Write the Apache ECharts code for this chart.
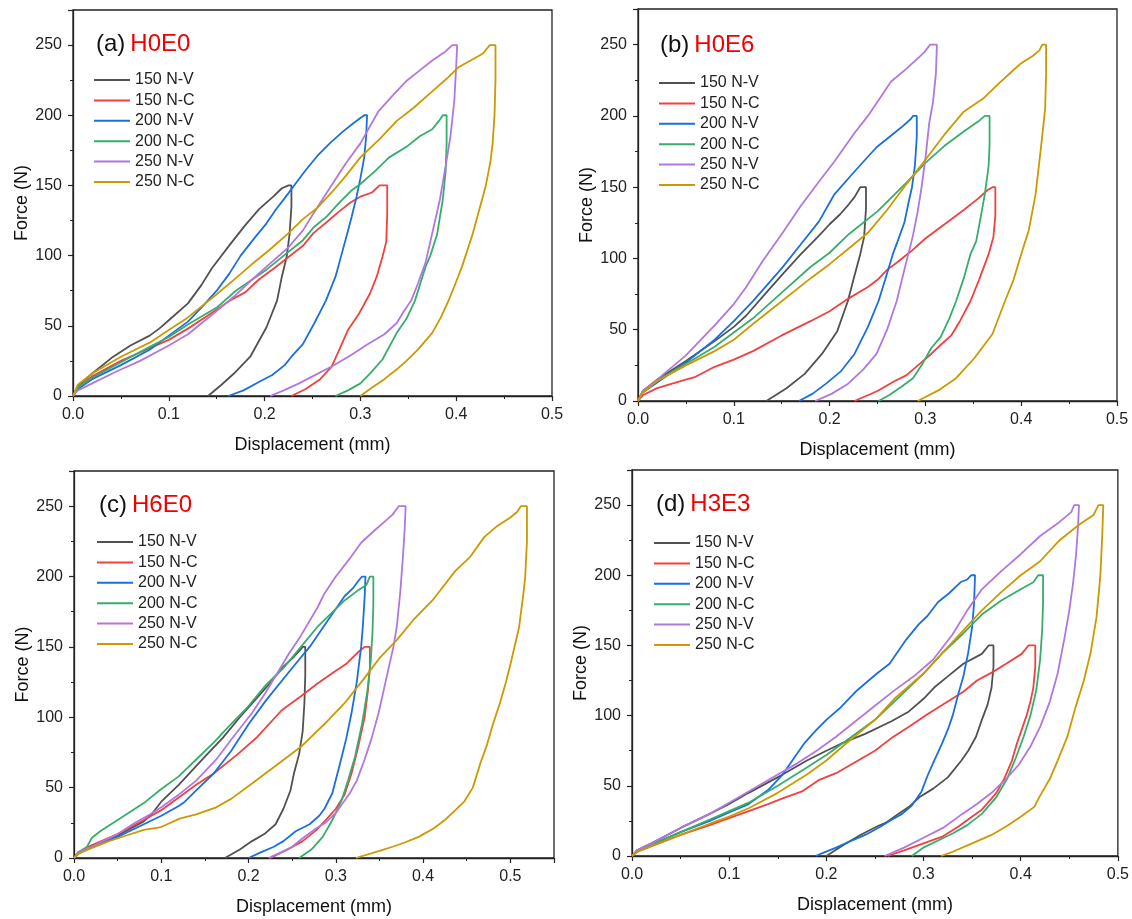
<!DOCTYPE html>
<html><head><meta charset="utf-8">
<script src="https://cdn.jsdelivr.net/npm/echarts@6/dist/echarts.min.js"></script>
<style>html,body{margin:0;padding:0;background:#fff}#c{width:1132px;height:919px}</style>
</head><body><div id="c"></div>
<script>
// ---------- data ----------
const seriesNames = ['150 N-V','150 N-C','200 N-V','200 N-C','250 N-V','250 N-C'];
const panelCodes = ['H0E0','H0E6','H6E0','H3E3'];
const panelLetters = ['(a)','(b)','(c)','(d)'];
const xTicks = [0,0.1,0.2,0.3,0.4,0.5];
const yTicks = [0,50,100,150,200,250];

// Panel (a) H0E0
const a150V = [[0,0],[0.005,7],[0.02,16],[0.04,27],[0.06,36],[0.08,43],[0.09,48],[0.1,54],[0.12,66],[0.134,79],[0.145,91],[0.164,108],[0.179,121],[0.194,133],[0.209,142],[0.218,148],[0.225,150],[0.228,150],[0.228,135],[0.226,115],[0.223,99],[0.218,85],[0.213,68],[0.202,49],[0.185,28],[0.168,16],[0.155,8],[0.141,0]];
const a150C = [[0,0],[0.005,6],[0.02,14],[0.05,25],[0.08,34],[0.1,40],[0.12,48],[0.14,57],[0.164,68],[0.18,74],[0.194,83],[0.21,91],[0.225,99],[0.24,107],[0.251,116],[0.265,124],[0.277,131],[0.29,138],[0.3,142],[0.312,145],[0.32,150],[0.328,150],[0.328,130],[0.327,110],[0.323,99],[0.317,85],[0.31,73],[0.298,58],[0.287,47],[0.278,33],[0.27,21],[0.258,12],[0.243,5],[0.228,0]];
const a200V = [[0,0],[0.005,5],[0.02,12],[0.05,22],[0.08,33],[0.1,43],[0.12,53],[0.134,63],[0.15,75],[0.163,87],[0.175,100],[0.19,113],[0.202,123],[0.212,133],[0.221,141],[0.232,151],[0.243,161],[0.255,171],[0.268,180],[0.281,188],[0.292,194],[0.3,198],[0.304,200],[0.307,200],[0.306,185],[0.304,170],[0.3,155],[0.296,142],[0.291,128],[0.286,115],[0.28,100],[0.274,85],[0.264,68],[0.252,52],[0.24,37],[0.228,28],[0.221,22],[0.208,15],[0.194,10],[0.178,4],[0.162,0]];
const a200C = [[0,0],[0.005,6],[0.02,13],[0.05,24],[0.08,35],[0.1,42],[0.12,51],[0.15,63],[0.17,75],[0.2,89],[0.22,100],[0.24,111],[0.251,120],[0.265,128],[0.277,137],[0.29,146],[0.3,151],[0.315,160],[0.33,170],[0.349,178],[0.362,185],[0.375,190],[0.382,196],[0.386,200],[0.39,200],[0.39,180],[0.389,160],[0.386,140],[0.38,115],[0.373,100],[0.368,92],[0.357,68],[0.348,55],[0.338,45],[0.323,26],[0.31,16],[0.3,9],[0.287,4],[0.274,0]];
const a250V = [[0,0],[0.005,4],[0.02,9],[0.047,18],[0.07,25],[0.1,36],[0.12,44],[0.149,60],[0.17,72],[0.187,83],[0.205,94],[0.225,106],[0.24,118],[0.251,130],[0.265,145],[0.285,166],[0.3,180],[0.319,203],[0.335,215],[0.349,225],[0.362,232],[0.375,239],[0.388,245],[0.396,250],[0.401,250],[0.4,235],[0.398,210],[0.394,185],[0.39,168],[0.383,140],[0.375,116],[0.368,95],[0.36,80],[0.353,68],[0.345,60],[0.338,52],[0.325,44],[0.308,37],[0.29,29],[0.27,21],[0.25,14],[0.236,9],[0.22,4],[0.206,0]];
const a250C = [[0,0],[0.005,8],[0.02,16],[0.05,28],[0.08,38],[0.1,47],[0.12,56],[0.149,72],[0.17,84],[0.187,94],[0.205,104],[0.225,116],[0.24,126],[0.255,134],[0.27,145],[0.285,157],[0.3,170],[0.32,183],[0.338,196],[0.355,205],[0.375,217],[0.39,226],[0.402,234],[0.415,239],[0.428,244],[0.435,250],[0.441,250],[0.441,225],[0.44,200],[0.438,180],[0.436,168],[0.431,150],[0.427,140],[0.417,115],[0.406,92],[0.398,78],[0.392,68],[0.384,56],[0.375,45],[0.36,33],[0.348,25],[0.338,19],[0.325,12],[0.31,5],[0.3,0]];

// Panel (b) H0E6
const b150V = [[0,0],[0.005,7],[0.02,15],[0.05,28],[0.08,42],[0.1,52],[0.113,60],[0.13,73],[0.151,89],[0.17,103],[0.189,116],[0.2,124],[0.211,131],[0.22,138],[0.226,143],[0.232,150],[0.238,150],[0.238,135],[0.236,115],[0.232,103],[0.226,88],[0.219,70],[0.208,49],[0.192,33],[0.174,19],[0.155,9],[0.134,0]];
const b150C = [[0,0],[0.005,4],[0.02,9],[0.04,13],[0.06,17],[0.08,24],[0.1,29],[0.12,35],[0.15,46],[0.18,56],[0.2,63],[0.22,72],[0.24,80],[0.25,85],[0.26,92],[0.27,97],[0.285,105],[0.3,114],[0.32,124],[0.34,134],[0.355,142],[0.365,148],[0.37,150],[0.373,150],[0.373,130],[0.371,115],[0.366,103],[0.356,85],[0.347,70],[0.336,56],[0.327,46],[0.317,40],[0.306,33],[0.294,26],[0.28,18],[0.268,14],[0.25,7],[0.226,0]];
const b200V = [[0,0],[0.005,6],[0.02,13],[0.05,27],[0.08,43],[0.1,56],[0.12,70],[0.15,93],[0.17,110],[0.189,126],[0.205,145],[0.226,161],[0.249,178],[0.262,185],[0.275,192],[0.285,198],[0.287,200],[0.291,200],[0.291,185],[0.289,165],[0.286,150],[0.283,141],[0.278,125],[0.271,112],[0.266,103],[0.258,85],[0.251,70],[0.24,52],[0.226,33],[0.212,21],[0.196,12],[0.182,5],[0.168,0]];
const b200C = [[0,0],[0.005,7],[0.02,14],[0.04,22],[0.06,30],[0.08,38],[0.1,48],[0.12,58],[0.15,76],[0.18,94],[0.2,104],[0.22,117],[0.25,133],[0.28,153],[0.3,167],[0.32,179],[0.34,189],[0.355,196],[0.362,200],[0.367,200],[0.367,180],[0.366,165],[0.362,145],[0.358,130],[0.353,112],[0.347,103],[0.34,86],[0.332,70],[0.325,58],[0.316,45],[0.306,37],[0.296,25],[0.287,16],[0.275,10],[0.262,4],[0.251,0]];
const b250V = [[0,0],[0.005,7],[0.02,15],[0.05,32],[0.08,53],[0.1,68],[0.113,80],[0.13,98],[0.151,118],[0.17,137],[0.189,154],[0.205,168],[0.226,188],[0.24,200],[0.25,210],[0.264,224],[0.28,233],[0.298,244],[0.305,250],[0.312,250],[0.311,230],[0.308,210],[0.304,195],[0.3,170],[0.296,150],[0.292,133],[0.287,116],[0.278,92],[0.27,70],[0.26,50],[0.249,33],[0.235,22],[0.219,12],[0.202,5],[0.185,0]];
const b250C = [[0,0],[0.005,6],[0.02,14],[0.05,25],[0.08,35],[0.1,43],[0.12,54],[0.15,70],[0.18,86],[0.2,96],[0.22,107],[0.24,118],[0.26,134],[0.28,152],[0.302,171],[0.32,187],[0.34,203],[0.36,212],[0.377,223],[0.39,231],[0.4,237],[0.412,242],[0.419,246],[0.422,250],[0.426,250],[0.426,230],[0.425,205],[0.421,180],[0.415,145],[0.408,120],[0.4,103],[0.392,85],[0.383,70],[0.37,47],[0.351,30],[0.332,16],[0.315,8],[0.292,0]];

// Panel (c) H6E0
const c150V = [[0,0],[0.005,4],[0.02,8],[0.05,16],[0.08,26],[0.09,32],[0.1,40],[0.12,52],[0.15,72],[0.17,85],[0.19,100],[0.2,107],[0.22,121],[0.24,136],[0.252,143],[0.258,147],[0.262,150],[0.265,150],[0.265,130],[0.264,110],[0.262,90],[0.258,74],[0.252,60],[0.248,48],[0.24,35],[0.231,24],[0.218,17],[0.204,12],[0.19,6],[0.173,0]];
const c150C = [[0,0],[0.005,4],[0.02,9],[0.05,17],[0.08,27],[0.1,34],[0.12,43],[0.14,52],[0.16,60],[0.188,74],[0.21,86],[0.238,105],[0.26,115],[0.279,124],[0.295,131],[0.312,138],[0.325,146],[0.333,150],[0.339,150],[0.339,135],[0.337,120],[0.333,100],[0.326,80],[0.318,60],[0.31,45],[0.3,35],[0.29,28],[0.278,20],[0.262,12],[0.245,6],[0.225,0]];
const c200V = [[0,0],[0.005,3],[0.02,8],[0.05,15],[0.08,24],[0.1,30],[0.12,37],[0.127,40],[0.14,48],[0.16,60],[0.18,76],[0.2,95],[0.22,112],[0.25,135],[0.27,150],[0.29,168],[0.31,186],[0.32,192],[0.326,197],[0.33,200],[0.334,200],[0.333,185],[0.331,165],[0.329,150],[0.324,125],[0.318,103],[0.312,85],[0.306,70],[0.296,46],[0.287,35],[0.281,30],[0.27,24],[0.254,19],[0.24,12],[0.229,8],[0.214,4],[0.2,0]];
const c200C = [[0,0],[0.005,4],[0.015,8],[0.02,14],[0.03,19],[0.05,27],[0.08,39],[0.1,49],[0.12,58],[0.14,70],[0.16,82],[0.175,92],[0.2,108],[0.22,123],[0.24,135],[0.26,150],[0.28,165],[0.3,177],[0.31,183],[0.325,190],[0.335,194],[0.339,200],[0.343,200],[0.343,180],[0.342,160],[0.34,140],[0.336,118],[0.33,95],[0.322,72],[0.314,55],[0.306,40],[0.296,27],[0.285,15],[0.272,6],[0.258,0]];
const c250V = [[0,0],[0.005,4],[0.02,8],[0.05,17],[0.07,25],[0.09,32],[0.1,36],[0.12,45],[0.14,55],[0.163,70],[0.18,84],[0.204,103],[0.22,118],[0.246,145],[0.26,158],[0.279,178],[0.287,188],[0.3,200],[0.315,212],[0.329,224],[0.343,232],[0.354,238],[0.365,244],[0.372,250],[0.38,250],[0.379,235],[0.377,215],[0.374,190],[0.37,165],[0.366,150],[0.358,128],[0.349,103],[0.341,85],[0.333,70],[0.324,55],[0.316,46],[0.3,32],[0.288,25],[0.275,20],[0.262,14],[0.25,8],[0.237,4],[0.223,0]];
const c250C = [[0,0],[0.005,3],[0.02,7],[0.04,12],[0.06,16],[0.08,20],[0.1,22],[0.121,28],[0.14,31],[0.163,36],[0.18,42],[0.204,53],[0.23,65],[0.26,79],[0.29,97],[0.31,110],[0.333,128],[0.35,142],[0.37,155],[0.39,170],[0.412,184],[0.437,204],[0.454,214],[0.47,228],[0.485,236],[0.5,242],[0.508,246],[0.512,250],[0.519,250],[0.519,225],[0.517,200],[0.515,188],[0.51,164],[0.501,140],[0.495,125],[0.488,110],[0.48,95],[0.473,80],[0.466,68],[0.457,50],[0.447,40],[0.437,34],[0.425,27],[0.412,21],[0.395,15],[0.379,11],[0.365,8],[0.35,5],[0.323,0]];

// Panel (d) H3E3
const d150V = [[0,0],[0.005,4],[0.02,9],[0.05,20],[0.08,30],[0.1,37],[0.12,45],[0.155,58],[0.18,68],[0.2,75],[0.215,80],[0.24,87],[0.267,96],[0.285,103],[0.3,112],[0.311,120],[0.325,128],[0.341,137],[0.36,144],[0.367,150],[0.372,150],[0.372,135],[0.37,120],[0.366,108],[0.36,97],[0.354,85],[0.346,75],[0.339,68],[0.325,56],[0.31,48],[0.296,42],[0.285,35],[0.274,30],[0.262,24],[0.252,21],[0.235,15],[0.218,8],[0.2,0]];
const d150C = [[0,0],[0.005,3],[0.02,7],[0.05,15],[0.08,22],[0.1,27],[0.12,32],[0.14,37],[0.155,41],[0.175,46],[0.192,54],[0.21,59],[0.23,67],[0.25,75],[0.267,84],[0.285,92],[0.304,101],[0.32,108],[0.341,117],[0.355,125],[0.371,131],[0.385,137],[0.401,144],[0.408,150],[0.415,150],[0.415,135],[0.413,120],[0.41,110],[0.406,100],[0.402,92],[0.396,80],[0.391,68],[0.383,55],[0.375,45],[0.36,33],[0.348,27],[0.336,21],[0.32,14],[0.3,9],[0.28,4],[0.263,0]];
const d200V = [[0,0],[0.005,3],[0.02,8],[0.05,17],[0.08,25],[0.1,31],[0.12,37],[0.14,47],[0.155,58],[0.165,68],[0.177,80],[0.19,90],[0.2,97],[0.215,106],[0.23,117],[0.252,130],[0.265,137],[0.282,154],[0.295,165],[0.304,171],[0.315,181],[0.326,187],[0.338,195],[0.345,197],[0.349,200],[0.353,200],[0.352,180],[0.35,163],[0.346,145],[0.341,128],[0.336,116],[0.33,100],[0.325,90],[0.319,80],[0.311,68],[0.304,57],[0.298,46],[0.288,36],[0.278,30],[0.265,25],[0.256,21],[0.24,15],[0.226,11],[0.21,6],[0.196,2],[0.189,0]];
const d200C = [[0,0],[0.005,3],[0.02,8],[0.05,17],[0.08,26],[0.1,32],[0.12,38],[0.15,50],[0.18,63],[0.2,72],[0.22,82],[0.25,97],[0.27,110],[0.3,130],[0.32,145],[0.34,158],[0.36,172],[0.38,182],[0.4,190],[0.413,195],[0.418,200],[0.423,200],[0.423,180],[0.422,160],[0.42,140],[0.416,118],[0.41,100],[0.403,85],[0.395,70],[0.386,55],[0.375,42],[0.36,30],[0.345,22],[0.33,16],[0.315,11],[0.3,6],[0.288,0]];
const d250V = [[0,0],[0.005,4],[0.02,9],[0.05,20],[0.08,30],[0.1,38],[0.12,46],[0.15,58],[0.17,66],[0.19,75],[0.21,85],[0.23,96],[0.25,107],[0.27,118],[0.29,128],[0.31,140],[0.33,158],[0.345,175],[0.36,190],[0.38,203],[0.4,215],[0.42,228],[0.44,238],[0.452,245],[0.455,250],[0.46,250],[0.459,235],[0.457,215],[0.454,195],[0.45,175],[0.445,155],[0.438,130],[0.43,110],[0.42,92],[0.41,78],[0.398,65],[0.385,55],[0.37,45],[0.355,37],[0.34,30],[0.32,20],[0.3,13],[0.28,6],[0.26,0]];
const d250C = [[0,0],[0.005,3],[0.02,7],[0.05,15],[0.08,23],[0.1,28],[0.12,34],[0.15,45],[0.18,58],[0.2,68],[0.22,80],[0.25,97],[0.27,112],[0.3,130],[0.32,145],[0.34,160],[0.36,175],[0.38,188],[0.4,200],[0.42,210],[0.44,225],[0.46,236],[0.475,243],[0.48,250],[0.485,250],[0.484,230],[0.482,200],[0.478,170],[0.472,145],[0.465,125],[0.456,105],[0.448,85],[0.438,68],[0.43,55],[0.42,43],[0.414,35],[0.4,28],[0.385,21],[0.37,15],[0.35,9],[0.33,3],[0.318,0]];

const panelData = [
  [a150V,a150C,a200V,a200C,a250V,a250C],
  [b150V,b150C,b200V,b200C,b250V,b250C],
  [c150V,c150C,c200V,c200C,c250V,c250C],
  [d150V,d150C,d200V,d200C,d250V,d250C]
];
const xMax = [0.5,0.5,0.55,0.5];

// ---------- layout / style ----------
const colors = ['#515151','#F14040','#1A6FDF','#37AD6B','#B177DE','#CC9900'];
const grids = [
  {left:73, top:10, width:479, height:386},
  {left:638, top:9, width:479, height:392},
  {left:74, top:471, width:480, height:387},
  {left:632, top:470, width:486, height:386}
];
const legendPos = [{left:94,top:72},{left:659,top:75},{left:97,top:534},{left:654,top:535}];
const titlePos = [{left:96,top:32},{left:660,top:33},{left:99,top:493},{left:656,top:492}];
const FONT = 'Arial, "Liberation Sans", sans-serif';

const chart = echarts.init(document.getElementById('c'), null, {renderer:'canvas'});
const option = {
  animation:false,
  color:colors,
  grid: grids.map(g => Object.assign({show:true, borderColor:'#222', borderWidth:1.3, backgroundColor:'transparent'}, g)),
  title: panelLetters.map((l,i) => Object.assign({
    text: '{k|' + l + '} {r|' + panelCodes[i] + '}',
    textStyle:{fontWeight:'normal', rich:{
      k:{fontSize:24,color:'#111',fontFamily:FONT,fontWeight:'normal'},
      r:{fontSize:24,color:'#F00000',fontFamily:FONT,fontWeight:'normal'}}},
    padding:0
  }, titlePos[i])),
  legend: panelData.map((p,i) => Object.assign({
    orient:'vertical', data: seriesNames.map(n => ({name:n})),
    icon:'rect', itemWidth:36, itemHeight:2, itemGap:4.4, padding:0,
    textStyle:{fontSize:16, lineHeight:16, color:'#222', fontFamily:FONT},
    selectedMode:false
  }, legendPos[i])),
  xAxis: grids.map((g,i) => ({
    type:'value', gridIndex:i, min:0, max:xMax[i], interval:0.1,
    name:'Displacement (mm)', nameLocation:'middle', nameGap:40,
    nameTextStyle:{fontSize:18, color:'#111', fontFamily:FONT},
    axisLine:{show:true, onZero:false, lineStyle:{color:'#222', width:1.3}},
    axisTick:{show:true, inside:false, length:5, lineStyle:{color:'#222', width:1.2}},
    minorTick:{show:true, splitNumber:2, length:3, lineStyle:{color:'#222', width:1}},
    splitLine:{show:false},
    axisLabel:{fontSize:16, color:'#222', margin:11, fontFamily:FONT,
      formatter: v => xTicks.some(t => Math.abs(t - v) < 1e-9) ? v.toFixed(1) : ''}
  })),
  yAxis: grids.map((g,i) => ({
    type:'value', gridIndex:i, min:0, max:275, interval:50,
    name:'Force (N)', nameLocation:'middle', nameGap:42, nameRotate:90,
    nameTextStyle:{fontSize:18, color:'#111', fontFamily:FONT},
    axisLine:{show:true, onZero:false, lineStyle:{color:'#222', width:1.3}},
    axisTick:{show:true, inside:false, length:5, lineStyle:{color:'#222', width:1.2}},
    minorTick:{show:true, splitNumber:2, length:3, lineStyle:{color:'#222', width:1}},
    splitLine:{show:false},
    axisLabel:{fontSize:16, color:'#222', margin:11, fontFamily:FONT,
      formatter: v => yTicks.indexOf(v) >= 0 ? String(v) : ''}
  })),
  series: []
};
panelData.forEach((arrs, i) => {
  arrs.forEach((d, j) => {
    option.series.push({
      type:'line', name:seriesNames[j], xAxisIndex:i, yAxisIndex:i,
      data:d, showSymbol:false, symbol:'none', smooth:false,
      lineStyle:{width:1.8, color:colors[j]}, itemStyle:{color:colors[j]},
      emphasis:{disabled:true}, silent:true
    });
  });
});
chart.setOption(option);
</script>
</body></html>
